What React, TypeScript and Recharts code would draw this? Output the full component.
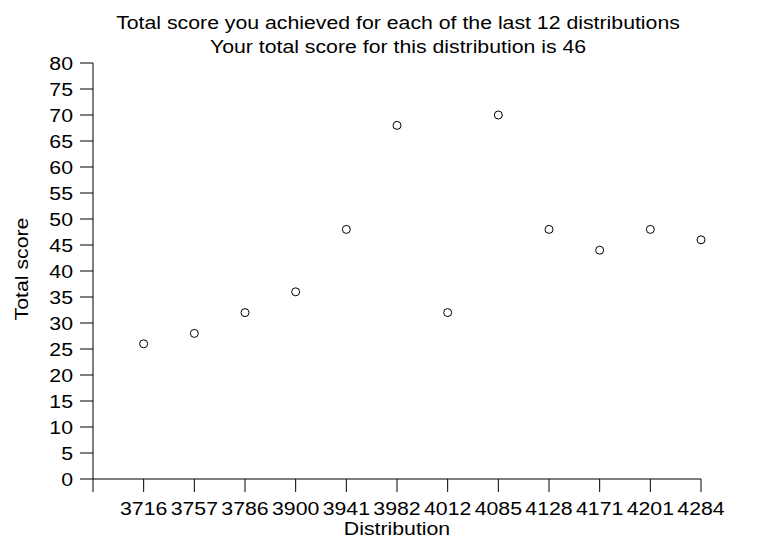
import React from 'react';
import { ScatterChart, Scatter, XAxis, YAxis } from 'recharts';

// distributions shown along the x axis
const distributions = ['3716', '3757', '3786', '3900', '3941', '3982', '4012', '4085', '4128', '4171', '4201', '4284'];
// total score per distribution
const scores = [26, 28, 32, 36, 48, 68, 32, 70, 48, 44, 48, 46];
const yTicks = [0, 5, 10, 15, 20, 25, 30, 35, 40, 45, 50, 55, 60, 65, 70, 75, 80];
const xTicks = [0, 1, 2, 3, 4, 5, 6, 7, 8, 9, 10, 11, 12];

const data = distributions.map((d, i) => ({ idx: i + 1, name: d, score: scores[i] }));

const font = '"Liberation Sans", Arial, sans-serif';
const FS = 18.5;
const SX = 1.15; // the glyphs in the original are a bit wide

const OpenCircle = (props: any) => (
  <circle cx={props.cx} cy={props.cy} r={4} fill="#fff" stroke="#000" strokeWidth={1} />
);

const XTick = (props: any) => {
  const { x, y, payload } = props;
  const v = payload.value as number;
  if (v < 1) return null;
  return (
    <g transform={`translate(${x},${y}) scale(${SX},1)`}>
      <text x={0} y={0} dy={23} textAnchor="middle" fill="#000" fontSize={FS} fontFamily={font}>
        {distributions[v - 1]}
      </text>
    </g>
  );
};

const YTick = (props: any) => {
  const { x, y, payload } = props;
  return (
    <g transform={`translate(${x},${y}) scale(${SX},1)`}>
      <text x={0} y={0} dy={6.6} textAnchor="end" fill="#000" fontSize={FS} fontFamily={font}>
        {payload.value}
      </text>
    </g>
  );
};

const Txt = ({ x, y, rotate, children }: any) => (
  <g transform={`translate(${x},${y})${rotate ? ` rotate(${rotate})` : ''} scale(${SX},1)`}>
    <text x={0} y={0} textAnchor="middle" fill="#000" fontSize={FS} fontFamily={font}>
      {children}
    </text>
  </g>
);

export default function App() {
  return (
    <div style={{ position: 'relative', width: 755, height: 531 }}>
      <ScatterChart width={755} height={531} margin={{ top: 55, right: 62, bottom: 0, left: 0 }}>
        <XAxis
          type="number"
          dataKey="idx"
          domain={[0, 12]}
          ticks={xTicks}
          interval={0}
          height={60}
          tickSize={13}
          tickMargin={0}
          stroke="#000"
          tick={<XTick />}
          allowDecimals={false}
        />
        <YAxis
          type="number"
          dataKey="score"
          domain={[0, 80]}
          ticks={yTicks}
          interval={0}
          width={85}
          tickSize={13}
          tickMargin={7}
          stroke="#000"
          tick={<YTick />}
        />
        <Scatter data={data} shape={OpenCircle} isAnimationActive={false} />
      </ScatterChart>
      <svg
        width={763}
        height={539}
        style={{ position: 'absolute', left: -8, top: -8, pointerEvents: 'none' }}
      >
        <Txt x={398} y={29}>Total score you achieved for each of the last 12 distributions</Txt>
        <Txt x={398} y={52.5}>Your total score for this distribution is 46</Txt>
        <Txt x={397} y={535}>Distribution</Txt>
        <Txt x={28} y={269} rotate={-90}>Total score</Txt>
      </svg>
    </div>
  );
}
